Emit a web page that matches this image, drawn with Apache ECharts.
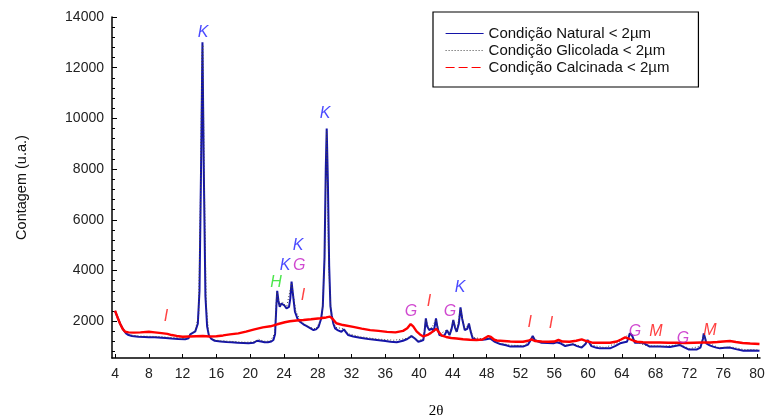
<!DOCTYPE html>
<html>
<head>
<meta charset="utf-8">
<script src="https://cdn.jsdelivr.net/npm/echarts@6/dist/echarts.min.js"></script>
<style>html,body{margin:0;padding:0;background:#fff}#c{width:765px;height:420px}</style>
</head>
<body>
<div id="c"></div>
<script>
// ---- DATA ----
const xTicks = [4,8,12,16,20,24,28,32,36,40,44,48,52,56,60,64,68,72,76,80];
const yTicks = [2000,4000,6000,8000,10000,12000,14000];
const yMinorTicks = [800,1200,1600,2400,2800,3200,3600,4400,4800,5200,5600,6400,6800,7200,7600,8400,8800,9200,9600,10400,10800,11200,11600,12400,12800,13200,13600];

const naturalTheta = [4.0,4.3,4.6,5.0,5.3,5.6,6.0,6.75,7.5,8.0,8.7,9.5,10.0,10.7,11.5,12.3,12.7,12.9,13.1,13.5,13.8,14.0,14.2,14.35,14.5,14.7,14.9,15.1,15.4,15.8,16.5,17.2,17.8,18.5,19.2,19.8,20.4,20.8,21.0,21.3,21.7,22.1,22.5,22.75,22.95,23.1,23.2,23.35,23.5,23.7,23.85,24.05,24.3,24.6,24.75,24.9,25.05,25.3,25.6,25.9,26.3,26.7,27.1,27.5,27.8,28.1,28.4,28.6,28.8,28.95,29.06,29.2,29.35,29.5,29.65,29.85,30.05,30.4,30.8,31.1,31.35,31.6,32.2,33.0,34.0,35.0,36.0,36.6,37.35,38.1,38.6,39.1,39.5,39.9,40.2,40.5,40.65,40.8,40.95,41.2,41.5,41.7,41.85,42.0,42.15,42.4,42.9,43.1,43.3,43.45,43.6,43.85,44.05,44.25,44.45,44.7,44.9,45.1,45.4,45.7,45.9,46.1,46.35,46.8,47.2,47.8,48.4,48.9,49.6,50.3,50.8,51.5,52.3,52.9,53.2,53.45,53.7,53.9,54.5,55.2,55.9,56.3,56.5,56.8,57.3,57.8,58.25,58.7,59.25,59.7,59.95,60.2,60.4,61.0,61.4,62.0,62.6,63.2,63.8,64.3,64.6,64.8,64.95,65.2,65.55,66.0,66.5,66.9,67.3,68.0,68.5,69.1,69.7,70.3,70.9,71.4,71.9,72.4,72.9,73.3,73.45,73.6,73.7,73.85,74.0,74.4,74.8,75.2,75.6,76.2,76.8,77.5,78.4,79.3,80.3];
const naturalCounts = [2400,2150,1900,1650,1520,1455,1420,1390,1380,1370,1365,1350,1340,1320,1300,1285,1330,1480,1450,1600,1900,3200,8500,13000,8200,3000,1800,1450,1300,1230,1200,1180,1170,1150,1140,1130,1150,1230,1260,1200,1170,1170,1200,1260,1500,2600,3200,2800,2570,2700,2745,2620,2510,2570,2900,3560,3100,2375,2100,1980,1880,1810,1730,1650,1680,1780,2100,2600,4500,8000,9600,7500,4200,2600,2240,1900,1720,1640,1585,1680,1560,1455,1400,1350,1300,1260,1220,1190,1170,1230,1300,1415,1320,1190,1220,1260,1600,2115,1800,1650,1720,1585,1800,2115,1800,1455,1415,1500,1650,1550,1455,1700,2050,1750,1585,1900,2550,2100,1650,1700,1910,1600,1320,1270,1260,1280,1320,1200,1100,1050,1000,1010,1000,1080,1250,1415,1250,1190,1150,1140,1130,1170,1230,1120,1020,1060,1090,1020,960,1100,1260,1120,1020,950,930,930,930,1020,1130,1170,1190,1350,1530,1450,1150,1150,1150,1080,1000,1000,1000,990,980,1020,1060,970,890,890,890,960,1000,1300,1520,1350,1130,1050,1000,960,930,950,960,900,840,850,840];

const glycolTheta = [4.0,4.4,4.8,5.2,5.7,6.5,7.5,8.5,9.5,10.5,11.5,12.4,12.9,13.5,13.9,14.1,14.3,14.4,14.55,14.8,15.1,15.6,16.5,17.5,18.5,19.5,20.5,21.0,21.6,22.4,22.9,23.15,23.5,23.85,24.3,24.9,25.4,26.0,27.0,27.8,28.5,28.8,29.05,29.3,29.6,30.1,31.1,31.7,33.0,35.0,37.0,38.5,39.1,39.8,40.5,40.8,41.2,41.5,42.0,42.4,43.3,43.6,44.05,44.45,44.9,45.4,45.9,46.4,47.5,48.4,49.5,51.0,52.5,53.45,54.0,56.0,56.5,57.3,58.3,59.3,59.95,60.5,62.0,63.5,64.9,65.6,67.0,69.0,70.9,72.0,73.4,73.7,74.1,75.5,77.0,78.5,80.3];
const glycolCounts = [2380,2080,1800,1580,1470,1420,1410,1400,1390,1360,1340,1310,1480,1620,2300,6500,12600,12900,8000,2600,1500,1270,1230,1210,1190,1170,1190,1290,1210,1220,1520,3150,2600,2760,2540,3500,2400,1990,1760,1700,2150,4300,9500,4100,2200,1760,1700,1500,1390,1300,1250,1320,1440,1230,1290,2080,1680,1740,2080,1480,1660,1480,2030,1600,2500,1680,1880,1360,1300,1340,1130,1050,1040,1400,1220,1160,1240,1050,1110,990,1240,1050,960,1150,1500,1180,1030,1010,1080,920,1020,1480,1150,960,980,880,870];

const calcinedTheta = [4.0,4.3,4.6,4.9,5.2,5.6,6.2,7.0,8.0,8.7,9.5,10.2,10.7,11.3,12.0,12.8,13.6,14.4,15.2,16.0,16.8,17.6,18.6,19.5,20.5,21.5,22.4,23.2,24.1,24.7,25.5,26.3,27.2,28.3,29.0,29.45,29.6,29.75,30.2,31.0,32.2,33.2,34.2,35.2,36.2,37.2,38.1,38.6,39.0,39.3,39.7,40.1,40.5,41.0,41.4,41.8,42.05,42.3,42.7,43.2,43.8,44.45,45.2,46.0,46.8,47.5,47.9,48.2,48.5,48.9,49.2,50.0,50.8,51.5,52.3,52.9,53.3,53.7,54.5,55.3,56.0,56.5,57.0,57.8,58.6,59.25,59.8,60.6,61.5,62.6,63.4,63.9,64.4,64.9,65.4,65.8,66.5,67.3,68.5,69.5,70.5,71.5,72.5,73.5,74.5,75.3,76.0,76.8,77.5,78.3,79.2,80.3];
const calcinedCounts = [2420,2150,1900,1700,1585,1560,1550,1560,1585,1560,1530,1500,1455,1420,1390,1400,1410,1415,1400,1410,1440,1480,1520,1590,1680,1760,1800,1880,1960,2000,2030,2050,2080,2120,2150,2180,2250,2100,1920,1850,1780,1710,1650,1620,1580,1560,1620,1720,1890,1800,1600,1480,1400,1460,1540,1640,1700,1580,1430,1380,1340,1320,1290,1270,1260,1280,1360,1415,1380,1270,1240,1220,1200,1190,1190,1230,1285,1220,1200,1190,1200,1260,1200,1190,1230,1285,1220,1150,1150,1150,1200,1280,1365,1300,1230,1190,1170,1160,1160,1150,1150,1140,1150,1160,1160,1180,1200,1220,1180,1140,1120,1100];

const peakLetters = ['K','K','K','K','G','H','I','I','G','I','G','K','I','I','G','M','G','M'];
const peakTheta   = [14.42,28.86,25.67,24.13,25.8,23.06,26.26,10.04,39.04,41.17,43.66,44.84,53.1,55.6,65.56,68.05,71.24,74.44];
const peakCounts  = [13370,10173,5005,4177,4177,3545,3000,2200,2400,2757,2400,3310,1968,1890,1613,1613,1337,1652];
const letterColors = {K:'#1a1aff', G:'#c41cc4', H:'#1fe01f', I:'#ff1010', M:'#ff1010'};

const seriesNames = ['Condição Natural < 2µm','Condição Glicolada < 2µm','Condição Calcinada < 2µm'];

// ---- BUILD ----
const zip = (a, b) => a.map((v, i) => [v, b[i]]);
const chart = echarts.init(document.getElementById('c'), null, {renderer: 'canvas'});
const font = 'Arial, "Liberation Sans", sans-serif';
const clear = 'rgba(0,0,0,0)';

chart.setOption({
  animation: false,
  backgroundColor: '#fff',
  grid: {left: 112, right: 5, top: 17, bottom: 62, containLabel: false, outerBoundsMode: 'none'},
  legend: {
    show: true,
    left: 433, top: 12, orient: 'vertical',
    borderColor: '#000', borderWidth: 1.2, padding: [14, 29, 12, 12],
    itemWidth: 38, itemHeight: 14, itemGap: 2,
    textStyle: {fontFamily: font, fontSize: 15, color: '#111'},
    data: [
      {name: seriesNames[0], lineStyle: {width: 1.2}},
      {name: seriesNames[1], lineStyle: {width: 1}},
      {name: seriesNames[2], lineStyle: {width: 1.2, type: [9, 4]}}
    ]
  },
  xAxis: {
    type: 'value', min: 3.64, max: 80.36,
    name: '2θ', nameLocation: 'middle', nameGap: 46,
    nameTextStyle: {fontFamily: '"Liberation Serif", "Times New Roman", serif', fontSize: 15, color: '#000'},
    axisLine: {lineStyle: {color: '#000', width: 1.5}},
    axisTick: {inside: true, length: 4, lineStyle: {color: '#000', width: 1}, customValues: xTicks},
    axisLabel: {customValues: xTicks, fontFamily: font, fontSize: 14, color: '#222', margin: 9, formatter: v => String(v)},
    splitLine: {show: false}
  },
  yAxis: [{
    type: 'value', min: 550, max: 14000,
    name: 'Contagem (u.a.)', nameLocation: 'middle', nameGap: 83,
    nameTextStyle: {fontFamily: font, fontSize: 14.5, color: '#111'},
    axisLine: {show: true, lineStyle: {color: '#000', width: 1.5}},
    axisTick: {show: true, inside: true, length: 5, lineStyle: {color: '#000', width: 1}, customValues: yTicks},
    axisLabel: {customValues: yTicks, fontFamily: font, fontSize: 14, color: '#222', margin: 8, formatter: v => String(v)},
    splitLine: {show: false}
  }, {
    type: 'value', min: 550, max: 14000, position: 'left',
    axisLine: {show: false},
    axisTick: {show: true, inside: true, length: 3, lineStyle: {color: '#000', width: 1}, customValues: yMinorTicks},
    axisLabel: {show: true, customValues: yMinorTicks, formatter: () => ''},
    splitLine: {show: false}
  }],
  series: [
    {name: seriesNames[0], type: 'line', symbol: 'none', data: zip(naturalTheta, naturalCounts),
     lineStyle: {color: '#1414a8', width: 2}, itemStyle: {color: clear, borderWidth: 0}, z: 3},
    {name: seriesNames[1], type: 'line', symbol: 'none', data: zip(glycolTheta, glycolCounts),
     lineStyle: {color: '#444', width: 1, type: [1, 2]}, itemStyle: {color: clear, borderWidth: 0}, z: 4},
    {name: seriesNames[2], type: 'line', symbol: 'none', data: zip(calcinedTheta, calcinedCounts),
     lineStyle: {color: '#ff0000', width: 2.4}, itemStyle: {color: clear, borderWidth: 0}, z: 5},
    {name: 'labels', type: 'scatter', symbolSize: 2, itemStyle: {color: clear}, z: 6,
     data: peakLetters.map((t, i) => ({value: [peakTheta[i], peakCounts[i]],
       label: {show: true, position: 'inside', formatter: t, color: letterColors[t],
               fontFamily: font, fontSize: 16, fontStyle: 'italic'}})),
     silent: true}
  ]
});
</script>
</body>
</html>
